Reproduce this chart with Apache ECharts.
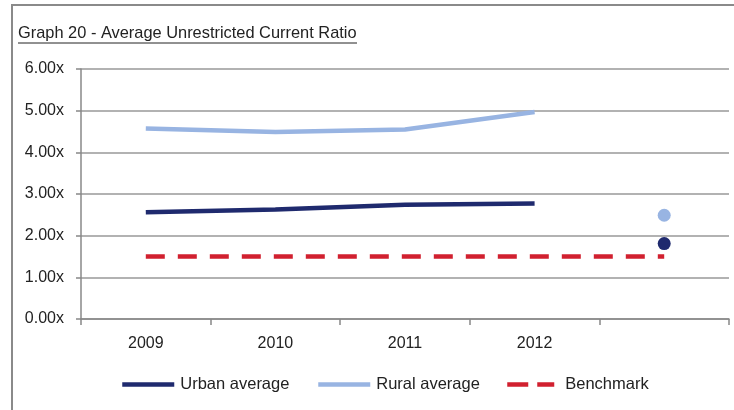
<!DOCTYPE html>
<html>
<head>
<meta charset="utf-8">
<script src="https://cdn.jsdelivr.net/npm/echarts@6/dist/echarts.min.js"></script>
<style>
  html, body { margin: 0; padding: 0; background: #fff; }
  #chart { width: 734px; height: 410px; }
</style>
</head>
<body>
<div id="chart"></div>
<script>
// values
var years = ['2009', '2010', '2011', '2012', ''];
var urbanAvg = [2.56, 2.63, 2.74, 2.77, null];
var ruralAvg = [4.57, 4.49, 4.55, 4.97, null];
var benchmark = [1.5, 1.5, 1.5, 1.5, 1.5];
var urbanDot = [null, null, null, null, 1.81];
var ruralDot = [null, null, null, null, 2.49];
var yTicks = [0, 1, 2, 3, 4, 5, 6];

var navy = '#1f2a6e';
var lightBlue = '#98b4e2';
var red = '#d1202f';
var font = 'Liberation Sans, Arial, sans-serif';

var myChart = echarts.init(document.getElementById('chart'));

function legendAt(left, name, w, gap, dash) {
  return {
    left: left,
    top: 376,
    padding: 0,
    itemWidth: w,
    itemHeight: 14,
    itemGap: 0,
    data: [name],
    itemStyle: { opacity: 0 },
    lineStyle: dash ? { width: 4.5, type: dash } : { width: 4.5 },
    textStyle: { fontFamily: font, fontSize: 16.5, color: '#222', padding: [0, 0, 0, gap] }
  };
}

var option = {
  animation: false,
  textStyle: { fontFamily: font },
  title: {
    text: 'Graph 20 - Average Unrestricted Current Ratio',
    left: 18,
    top: 25,
    padding: 0,
    textStyle: { fontFamily: font, fontSize: 16.4, fontWeight: 'normal', color: '#222' }
  },
  graphic: [
    {
      type: 'rect',
      shape: { x: 12, y: 5, width: 740, height: 420 },
      style: { fill: 'none', stroke: '#8a8a8a', lineWidth: 2 },
      silent: true
    },
    {
      type: 'line',
      shape: { x1: 18, y1: 43, x2: 357, y2: 43 },
      style: { stroke: '#222', lineWidth: 1 },
      silent: true
    }
  ],
  legend: [
    legendAt(120, 'Urban average', 52, 1),
    legendAt(316, 'Rural average', 52, 1),
    legendAt(505, 'Benchmark', 47, 6, [21, 9])
  ],
  grid: { left: 81, right: 5, top: 69, bottom: 91, containLabel: false },
  xAxis: {
    type: 'category',
    data: years,
    boundaryGap: true,
    axisLine: { lineStyle: { color: '#888', width: 1.5 } },
    axisTick: { show: true, length: 6, lineStyle: { color: '#888', width: 1.5 } },
    axisLabel: { color: '#222', fontSize: 16, margin: 17, fontFamily: font }
  },
  yAxis: {
    type: 'value',
    min: yTicks[0],
    max: yTicks[yTicks.length - 1],
    interval: 1,
    axisLine: { show: true, lineStyle: { color: '#888', width: 1.5 } },
    axisTick: { show: true, length: 5, lineStyle: { color: '#888', width: 1.5 } },
    splitLine: { lineStyle: { color: '#999', width: 1.5 } },
    axisLabel: {
      color: '#222', fontSize: 16, margin: 17, fontFamily: font,
      formatter: function (v) { return v.toFixed(2) + 'x'; }
    }
  },
  series: [
    {
      name: 'Urban average',
      type: 'line',
      data: urbanAvg,
      symbol: 'none',
      lineStyle: { color: navy, width: 4.5 },
      itemStyle: { color: navy }
    },
    {
      name: 'Rural average',
      type: 'line',
      data: ruralAvg,
      symbol: 'none',
      lineStyle: { color: lightBlue, width: 4.5 },
      itemStyle: { color: lightBlue }
    },
    {
      name: 'Benchmark',
      type: 'line',
      data: benchmark,
      symbol: 'none',
      lineStyle: { color: red, width: 4.5, type: [19, 13] },
      itemStyle: { color: red }
    },
    {
      name: 'ruralDot',
      type: 'scatter',
      data: ruralDot,
      symbolSize: 13,
      itemStyle: { color: lightBlue, opacity: 1 }
    },
    {
      name: 'urbanDot',
      type: 'scatter',
      data: urbanDot,
      symbolSize: 13,
      itemStyle: { color: navy, opacity: 1 }
    }
  ]
};
myChart.setOption(option);
</script>
</body>
</html>
